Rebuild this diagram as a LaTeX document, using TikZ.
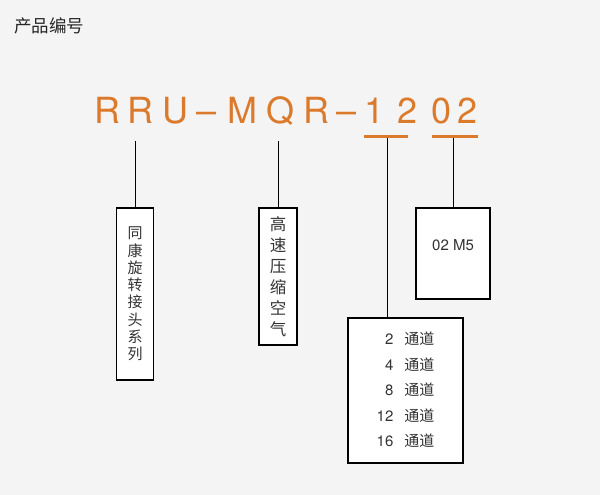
\documentclass[tikz,border=0pt]{standalone}
\usepackage{fontspec}
\setmainfont{TeX Gyre Heros}
\newfontfamily\cjk{Noto Sans CJK SC}
\usetikzlibrary{positioning}
\definecolor{codeorange}{HTML}{DC7A2C}
\definecolor{bggray}{HTML}{F4F4F4}
\definecolor{textgray}{HTML}{333333}

\tikzset{
  codechar/.style={font=\fontsize{36}{36}\selectfont, text=codeorange, anchor=base, inner sep=0pt},
  infobox/.style={draw=black, line width=1.1pt, fill=white, inner sep=0pt, text=textgray},
  tapline/.style={draw=black, line width=1pt},
  underbar/.style={draw=codeorange, line width=3pt}
}

\begin{document}
\begin{tikzpicture}[x=1pt, y=-1pt]
  \fill[bggray] (0,0) rectangle (600,495);
  \useasboundingbox (0,0) rectangle (600,495);

  % title
  \node[anchor=west, inner sep=0pt, text=black!85, font=\cjk\fontsize{17.5}{17.5}\selectfont] (title) at (14,26) {产品编号};

  % product code, one node per character
  \node[codechar] (c1)  at (107,123) {R};
  \node[codechar] (c2)  at (140,123) {R};
  \node[codechar] (c3)  at (175,123) {U};
  \node[codechar] (c4)  at (207,123) {--};
  \node[codechar] (c5)  at (242,123) {M};
  \node[codechar] (c6)  at (281,123) {Q};
  \node[codechar] (c7)  at (316,123) {R};
  \node[codechar] (c8)  at (347,123) {--};
  \node[codechar] (c9)  at (375,123) {1};
  \node[codechar] (c10) at (408,123) {2};
  \node[codechar] (c11) at (442,123) {0};
  \node[codechar] (c12) at (468,123) {2};

  % underbars
  \coordinate (u12a) at (364,136.5);
  \coordinate (u12b) at (408,136.5);
  \coordinate (u02a) at (432,136.5);
  \coordinate (u02b) at (478,136.5);
  \draw[underbar] (u12a) -- (u12b);
  \draw[underbar] (u02a) -- (u02b);

  % boxes
  \node[infobox, minimum width=37pt, minimum height=172pt, align=center,
        font=\cjk\fontsize{15}{17.3}\selectfont] (series) at (135,294)
        {同\\康\\旋\\转\\接\\头\\系\\列};
  \node[infobox, minimum width=38pt, minimum height=137pt, align=center,
        font=\cjk\fontsize{16.5}{21}\selectfont] (medium) at (278,276.5)
        {高\\速\\压\\缩\\空\\气};
  \node[infobox, minimum width=74pt, minimum height=91pt] (thread) at (453,253.5) {};
  \node[text=textgray, inner sep=0pt, font=\fontsize{15}{15}\selectfont] (threadtxt) at (453,245) {02 M5};
  \node[infobox, minimum width=115pt, minimum height=145pt,
        font=\fontsize{15}{25.5}\selectfont] (channels) at (405.5,390.5)
        {\begin{tabular}{@{}r@{\hspace{11pt}}l@{}}
          2  & {\cjk 通道}\\
          4  & {\cjk 通道}\\
          8  & {\cjk 通道}\\
          12 & {\cjk 通道}\\
          16 & {\cjk 通道}
        \end{tabular}};

  % taps
  \coordinate (tapR) at (135,141);
  \coordinate (tapQ) at (278,141);
  \coordinate (tap12) at (387,138);
  \coordinate (tap02) at (453,138);
  \draw[tapline] (tapR) -- (series.north);
  \draw[tapline] (tapQ) -- (medium.north);
  \draw[tapline] (tap12) -- (tap12 |- channels.north);
  \draw[tapline] (tap02) -- (thread.north);
\end{tikzpicture}
\end{document}
